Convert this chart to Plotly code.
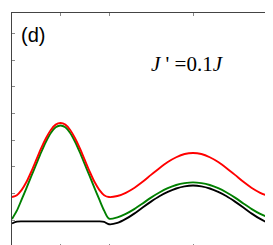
import plotly.graph_objects as go

# path coordinate along the Brillouin-zone path
k_path = [0.0, 0.1, 0.2, 0.3, 0.4, 0.5, 0.6, 0.7, 0.8, 0.9, 1.0,
          1.1, 1.2, 1.3, 1.4, 1.5, 1.6, 1.7, 1.8, 1.9, 2.0,
          2.173, 2.346, 2.520, 2.693, 2.866, 3.039, 3.212, 3.386, 3.559, 3.732,
          3.905, 4.078, 4.252, 4.425, 4.598, 4.771, 4.944, 5.118, 5.291, 5.464]

red_mode = [1.87, 1.94, 2.14, 2.44, 2.83, 3.26, 3.69, 4.07, 4.38, 4.58, 4.64,
            4.58, 4.38, 4.07, 3.69, 3.26, 2.83, 2.44, 2.14, 1.94, 1.87,
            1.91, 2.03, 2.21, 2.44, 2.70, 2.95, 3.18, 3.36, 3.48, 3.52,
            3.48, 3.36, 3.18, 2.95, 2.70, 2.44, 2.21, 2.03, 1.91, 1.87]

green_mode = [1.05, 1.36, 1.78, 2.21, 2.66, 3.10, 3.54, 3.94, 4.27, 4.48, 4.55,
              4.48, 4.27, 3.94, 3.54, 3.10, 2.66, 2.21, 1.78, 1.36, 1.06,
              1.11, 1.24, 1.42, 1.63, 1.85, 2.04, 2.20, 2.32, 2.39, 2.42,
              2.39, 2.32, 2.20, 2.04, 1.85, 1.63, 1.42, 1.24, 1.11, 1.05]

black_mode = [0.88, 0.95, 0.96, 0.96, 0.96, 0.96, 0.96, 0.96, 0.96, 0.96, 0.96,
              0.96, 0.96, 0.96, 0.96, 0.96, 0.96, 0.96, 0.96, 0.94, 0.85,
              0.90, 1.05, 1.25, 1.48, 1.70, 1.90, 2.06, 2.19, 2.27, 2.30,
              2.27, 2.19, 2.06, 1.90, 1.70, 1.48, 1.25, 1.05, 0.90, 0.85]

x_ticks = [1.0, 2.0, 3.732]
y_ticks = [1, 2, 3, 4, 5, 6, 7, 8]

fig = go.Figure()
for ys, col in [(black_mode, "black"), (green_mode, "#008000"), (red_mode, "#ff0000")]:
    fig.add_trace(go.Scatter(x=k_path, y=ys, mode="lines",
                             line=dict(color=col, width=1.9, shape="spline", smoothing=0.8),
                             showlegend=False, hoverinfo="skip"))

axis_common = dict(showline=True, linecolor="#444", linewidth=1, mirror="ticks",
                   ticks="inside", ticklen=3, tickcolor="#888", tickwidth=1,
                   showticklabels=False, showgrid=False, zeroline=False)

fig.update_xaxes(range=[0, 5.464], tickvals=x_ticks, **axis_common)
fig.update_yaxes(range=[0, 8.76], tickvals=y_ticks, **axis_common)

fig.add_annotation(x=0.079, y=0.906, xref="paper", yref="paper", text="(d)",
                   showarrow=False, font=dict(family="Liberation Sans, Arial", size=20, color="black"),
                   xanchor="center", yanchor="middle")
fig.add_annotation(x=0.664, y=0.782, xref="paper", yref="paper",
                   text="<i>J</i> ' =0.1<i>J</i>",
                   showarrow=False, font=dict(family="Liberation Serif, Times New Roman", size=21, color="black"),
                   xanchor="center", yanchor="middle")

fig.update_layout(width=273, height=245, margin=dict(l=4, r=4, t=5, b=6),
                  paper_bgcolor="white", plot_bgcolor="white")

fig.write_html("out.html")
